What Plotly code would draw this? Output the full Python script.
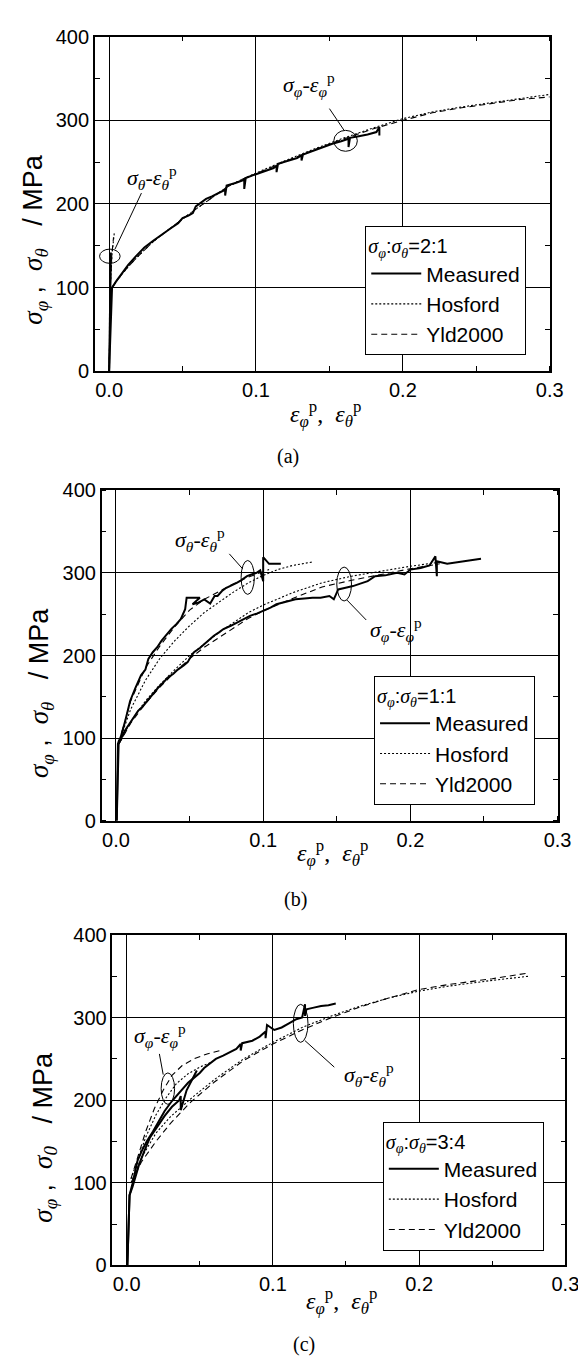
import plotly.graph_objects as go

# ---------------- data ----------------
# Panel (a)  sigma_phi : sigma_theta = 2:1
a_meas_phi_x = [0.000, 0.0005, 0.001, 0.0015, 0.002, 0.005, 0.009, 0.013, 0.018, 0.024, 0.030, 0.036, 0.042,
                0.047, 0.050, 0.054, 0.057, 0.059, 0.062, 0.066, 0.070, 0.074, 0.079, 0.079, 0.080, 0.086,
                0.092, 0.092, 0.093, 0.099, 0.106, 0.112, 0.114, 0.114, 0.115, 0.121, 0.128, 0.131, 0.131,
                0.132, 0.138, 0.145, 0.152, 0.158, 0.163, 0.163, 0.164, 0.170, 0.176, 0.182, 0.184, 0.184]
a_meas_phi_y = [0, 30, 60, 85, 100, 108, 118, 127, 137, 148, 156, 163, 171,
                177, 183, 186, 189, 197, 201, 206, 209, 213, 217, 210, 222, 225,
                229, 218, 231, 235, 239, 243, 246, 238, 248, 251, 255, 258, 252,
                259, 263, 268, 272, 275, 278, 268, 279, 281, 283, 286, 292, 282]
a_meas_th_x = [0.0, 0.0003, 0.0006, 0.0008, 0.001, 0.0012]
a_meas_th_y = [0, 40, 80, 100, 120, 142]
a_pred_phi_x = [0.002, 0.006, 0.012, 0.02, 0.03, 0.04, 0.05, 0.06, 0.07, 0.08, 0.09, 0.1, 0.12, 0.14,
                0.16, 0.18, 0.2, 0.22, 0.24, 0.26, 0.28, 0.3]
a_hos_phi_y = [100, 110, 123, 138, 155, 169, 182, 195, 208, 220, 229, 237, 252, 266, 279, 291, 302, 310, 316,
               321, 326, 331]
a_yld_phi_y = [100, 110, 123, 138, 155, 169, 182, 195, 208, 220, 229, 236, 251, 265, 278, 290, 300, 309, 315,
               320, 325, 328]
a_hos_th_x = [0.0, 0.0008, 0.002, 0.0035]
a_hos_th_y = [0, 100, 140, 165]
a_yld_th_x = [0.0, 0.0008, 0.0018, 0.003]
a_yld_th_y = [0, 100, 138, 160]

# Panel (b)  1:1
b_meas_th_x = [0.0005, 0.001, 0.0013, 0.002, 0.003, 0.0063, 0.0096, 0.013, 0.017, 0.020, 0.022, 0.025, 0.028,
               0.031, 0.034, 0.0375, 0.041, 0.044, 0.047, 0.048, 0.057, 0.052, 0.056, 0.060, 0.064, 0.067,
               0.069, 0.072, 0.075, 0.079, 0.082, 0.085, 0.089, 0.092, 0.0955, 0.098, 0.1, 0.1, 0.104, 0.112]
b_meas_th_y = [0, 40, 93, 97, 100, 121, 145, 160, 176, 183, 196, 204, 210,
               218, 225, 232, 238, 244, 256, 270, 270, 262, 264, 268, 263, 272,
               272, 278, 282, 285, 288, 291, 296, 298, 300, 303, 290, 319, 311, 311]
b_meas_phi_x = [0.0005, 0.001, 0.0018, 0.006, 0.0107, 0.015, 0.018, 0.022, 0.026, 0.0286, 0.032, 0.035, 0.039,
                0.042, 0.046, 0.0487, 0.051, 0.053, 0.057, 0.06, 0.063, 0.0665, 0.07, 0.073, 0.078, 0.082,
                0.086, 0.091, 0.096, 0.1, 0.105, 0.109, 0.115, 0.122, 0.128, 0.1335, 0.139, 0.145, 0.148,
                0.151, 0.156, 0.161, 0.166, 0.171, 0.176, 0.183, 0.191, 0.196, 0.2, 0.207, 0.213, 0.217,
                0.218, 0.218, 0.225, 0.236, 0.248]
b_meas_phi_y = [0, 40, 93, 109, 121, 133, 138, 147, 155, 161, 167, 173, 178,
                183, 188, 192, 199, 204, 209, 214, 219, 224, 228, 232, 236, 240,
                244, 248, 251, 254, 258, 262, 265, 268, 269, 270, 270, 272, 268,
                280, 282, 284, 287, 290, 296, 297, 300, 298, 304, 306, 309, 320,
                296, 314, 311, 314, 317]
b_hos_th_x = [0.002, 0.01, 0.02, 0.03, 0.04, 0.05, 0.06, 0.07, 0.08, 0.09, 0.1, 0.11, 0.12, 0.133]
b_hos_th_y = [95, 135, 170, 197, 218, 236, 252, 265, 277, 288, 297, 304, 309, 313]
b_yld_th_x = [0.002, 0.01, 0.02, 0.03, 0.04, 0.05, 0.06, 0.07, 0.08, 0.09, 0.1, 0.104]
b_yld_th_y = [95, 145, 185, 212, 235, 255, 268, 278, 287, 295, 302, 304]
b_pred_phi_x = [0.002, 0.01, 0.02, 0.03, 0.04, 0.05, 0.06, 0.07, 0.08, 0.09, 0.1, 0.12, 0.14, 0.16, 0.18,
                0.2, 0.22]
b_hos_phi_y = [93, 120, 145, 165, 183, 200, 214, 228, 240, 252, 261, 276, 288, 296, 302, 308, 313]
b_yld_phi_y = [93, 118, 142, 162, 180, 196, 210, 222, 234, 245, 254, 269, 283, 291, 298, 305, 311]

# Panel (c)  3:4
c_meas_th_x = [0.0005, 0.001, 0.002, 0.004, 0.0075, 0.011, 0.014, 0.018, 0.021, 0.026, 0.031, 0.035, 0.0386,
               0.042, 0.046, 0.05, 0.053, 0.057, 0.061, 0.066, 0.071, 0.075, 0.078, 0.078, 0.079, 0.083,
               0.086, 0.091, 0.095, 0.095, 0.096, 0.101, 0.106, 0.111, 0.116, 0.12, 0.122, 0.122, 0.123,
               0.128, 0.133, 0.138, 0.143]
c_meas_th_y = [0, 40, 85, 99, 127, 141, 151, 162, 171, 187, 199, 207, 215,
               221, 227, 233, 239, 245, 250, 254, 258, 262, 268, 260, 269, 271,
               272, 277, 283, 275, 291, 285, 288, 293, 298, 300, 316, 302, 310,
               312, 314, 315, 317]
c_meas_phi_x = [0.0005, 0.001, 0.002, 0.004, 0.0087, 0.012, 0.016, 0.021, 0.026, 0.031, 0.036, 0.037, 0.037,
                0.041, 0.046, 0.048]
c_meas_phi_y = [0, 40, 85, 95, 123, 138, 155, 168, 181, 192, 200, 205, 188, 212, 228, 236]
c_pred_th_x = [0.003, 0.01, 0.02, 0.03, 0.044, 0.06, 0.08, 0.1, 0.12, 0.14, 0.16, 0.18, 0.2, 0.22, 0.25,
               0.275]
c_hos_th_y = [100, 130, 160, 180, 202, 225, 250, 270, 288, 302, 314, 324, 332, 338, 345, 350]
c_yld_th_y = [100, 125, 150, 172, 198, 222, 248, 268, 285, 300, 313, 324, 334, 340, 347, 354]
c_hos_phi_x = [0.003, 0.008, 0.013, 0.02, 0.027, 0.034, 0.042, 0.05, 0.058]
c_hos_phi_y = [105, 130, 155, 182, 203, 220, 232, 240, 246]
c_yld_phi_x = [0.003, 0.008, 0.013, 0.019, 0.025, 0.031, 0.038, 0.046, 0.055, 0.066]
c_yld_phi_y = [105, 135, 162, 190, 212, 230, 242, 250, 256, 261]

ratio_labels = ["2:1", "1:1", "3:4"]
captions = ["(a)", "(b)", "(c)"]
x_tick_vals = [0.0, 0.1, 0.2, 0.3]
x_tick_text = ["0.0", "0.1", "0.2", "0.3"]
y_tick_vals = [0, 100, 200, 300, 400]

# ---------------- styling ----------------
W, H = 586, 1358
SANS = "Liberation Sans, Arial, sans-serif"
SERIF = "Liberation Serif, Times New Roman, serif"
MEAS = dict(color="black", width=2)
HOS = dict(color="black", width=1.1, dash="2px,2px")
YLD = dict(color="black", width=1.1, dash="6px,4px")

# pixel boxes of the three plot areas (left, right, top, bottom)
boxes = [(89, 555, 18, 358), (96, 563, 479, 815), (107, 571, 931, 1267)]

def gs(t):
    return '<span style="font-family:Liberation Serif"><i>' + t + '</i></span>'

fig = go.Figure()

def add(x, y, k, name, line, show):
    fig.add_trace(go.Scatter(
        x=x, y=y, mode="lines", line=line, name=name,
        xaxis="x" if k == 0 else "x%d" % (k + 1),
        yaxis="y" if k == 0 else "y%d" % (k + 1),
        legend="legend" if k == 0 else "legend%d" % (k + 1),
        legendgroup="%s%d" % (name, k), showlegend=show, hoverinfo="skip"))

panels = [
    dict(meas=[(a_meas_phi_x, a_meas_phi_y), (a_meas_th_x, a_meas_th_y)],
         hos=[(a_pred_phi_x, a_hos_phi_y), (a_hos_th_x, a_hos_th_y)],
         yld=[(a_pred_phi_x, a_yld_phi_y), (a_yld_th_x, a_yld_th_y)]),
    dict(meas=[(b_meas_th_x, b_meas_th_y), (b_meas_phi_x, b_meas_phi_y)],
         hos=[(b_hos_th_x, b_hos_th_y), (b_pred_phi_x, b_hos_phi_y)],
         yld=[(b_yld_th_x, b_yld_th_y), (b_pred_phi_x, b_yld_phi_y)]),
    dict(meas=[(c_meas_th_x, c_meas_th_y), (c_meas_phi_x, c_meas_phi_y)],
         hos=[(c_pred_th_x, c_hos_th_y), (c_hos_phi_x, c_hos_phi_y)],
         yld=[(c_pred_th_x, c_yld_th_y), (c_yld_phi_x, c_yld_phi_y)]),
]

for k, p in enumerate(panels):
    for i, (x, y) in enumerate(p["meas"]):
        add(x, y, k, "Measured", MEAS, i == 0)
    for i, (x, y) in enumerate(p["hos"]):
        add(x, y, k, "Hosford", HOS, i == 0)
    for i, (x, y) in enumerate(p["yld"]):
        add(x, y, k, "Yld2000", YLD, i == 0)

layout = dict(width=W, height=H, autosize=False, margin=dict(l=0, r=0, t=0, b=0),
              paper_bgcolor="white", plot_bgcolor="white", showlegend=True)

for k, (l, r, t, b) in enumerate(boxes):
    xs = "xaxis" if k == 0 else "xaxis%d" % (k + 1)
    ys = "yaxis" if k == 0 else "yaxis%d" % (k + 1)
    xa = "x" if k == 0 else "x%d" % (k + 1)
    ya = "y" if k == 0 else "y%d" % (k + 1)
    layout[xs] = dict(domain=[l / W, r / W], anchor=ya, range=[-0.0097, 0.3],
                      tickvals=x_tick_vals, ticktext=x_tick_text, ticks="",
                      showgrid=True, gridcolor="black", gridwidth=1,
                      zeroline=True, zerolinecolor="black", zerolinewidth=1,
                      showline=True, linecolor="black", linewidth=1.5, mirror="ticks",
                      minor=dict(dtick=0.05, tick0=0, ticks="inside", ticklen=5, tickcolor="black",
                                 showgrid=False),
                      tickfont=dict(family=SANS, size=20, color="black"), fixedrange=True)
    layout[ys] = dict(domain=[1 - b / H, 1 - t / H], anchor=xa, range=[0, 400],
                      tickvals=y_tick_vals, ticks="",
                      showgrid=True, gridcolor="black", gridwidth=1, zeroline=False,
                      showline=True, linecolor="black", linewidth=1.5, mirror="ticks",
                      minor=dict(dtick=50, tick0=0, ticks="inside", ticklen=5, tickcolor="black",
                                 showgrid=False),
                      tickfont=dict(family=SANS, size=20, color="black"), fixedrange=True)

# legends (left edge, bottom edge in pixels)
leg_pos = [(366, 342), (375, 799), (384, 1252)]
for k, (lx, ly) in enumerate(leg_pos):
    key = "legend" if k == 0 else "legend%d" % (k + 1)
    title = (gs("σ") + "<sub>" + gs("φ") + "</sub>:" + gs("σ") + "<sub>" + gs("θ") + "</sub>=" +
             ratio_labels[k])
    layout[key] = dict(x=lx / W, y=1 - ly / H, xanchor="left", yanchor="bottom",
                       bgcolor="white", bordercolor="black", borderwidth=1,
                       font=dict(family=SANS, size=21, color="black"),
                       title=dict(text=title, font=dict(family=SANS, size=20, color="black")),
                       tracegroupgap=0, itemwidth=50, traceorder="normal")

fig.update_layout(**layout)

ann = []
shapes = []
axis_title_y = "%s<sub>%s</sub>\u00a0,\u00a0\u00a0%s<sub>%s</sub>\u00a0\u00a0\u00a0/ MPa"
ytitles = [axis_title_y % (gs("σ"), gs("φ"), gs("σ"), gs("θ")),
           axis_title_y % (gs("σ"), gs("φ"), gs("σ"), gs("θ")),
           axis_title_y % (gs("σ"), gs("φ"), gs("σ"), gs("0"))]
xtitle = "<i>ε</i><sub><i>φ</i></sub><sup>p</sup>,  <i>ε</i><sub><i>θ</i></sub><sup>p</sup>"
ytitle_pos = [(28, 224), (34, 685), (37, 1137)]
xtitle_pos = [(325, 402), (332, 848), (342, 1303)]
cap_pos = [(287, 445), (295, 895), (303, 1347)]
for k in range(3):
    ann.append(dict(xref="paper", yref="paper", x=ytitle_pos[k][0] / W, y=1 - ytitle_pos[k][1] / H,
                    xanchor="center", yanchor="middle",
                    text=ytitles[k], textangle=-90, showarrow=False,
                    font=dict(family=SANS, size=27, color="black")))
    ann.append(dict(xref="paper", yref="paper", x=xtitle_pos[k][0] / W, y=1 - xtitle_pos[k][1] / H,
                    xanchor="center", yanchor="middle",
                    text=xtitle, showarrow=False, font=dict(family=SERIF, size=24, color="black")))
    ann.append(dict(xref="paper", yref="paper", x=cap_pos[k][0] / W, y=1 - cap_pos[k][1] / H,
                    xanchor="center", yanchor="middle",
                    text=captions[k], showarrow=False, font=dict(family=SERIF, size=20, color="black")))

lab_th = "<i>σ</i><sub><i>θ</i></sub>-<i>ε</i><sub><i>θ</i></sub><sup>p</sup>"
lab_phi = "<i>σ</i><sub><i>φ</i></sub>-<i>ε</i><sub><i>φ</i></sub><sup>p</sup>"
# (panel, text, label x, label y, ellipse x0,x1,y0,y1, leader x0,y0,x1,y1)
marks = [
    (0, lab_th, 0.029, 232, -0.0065, 0.0075, 129, 146, 0.004, 146, 0.022, 213),
    (0, lab_phi, 0.136, 343, 0.153, 0.169, 263, 288, 0.160, 288, 0.150, 314),
    (1, lab_th, 0.057, 340, 0.085, 0.094, 274, 315, 0.086, 305, 0.077, 323),
    (1, lab_phi, 0.19, 232, 0.150, 0.160, 266, 307, 0.157, 267, 0.170, 243),
    (2, lab_phi, 0.023, 278, 0.0236, 0.0328, 195, 233, 0.025, 231, 0.0224, 256),
    (2, lab_th, 0.166, 231, 0.114, 0.124, 270, 316, 0.122, 272, 0.142, 240),
]
for (k, txt, lx, ly, ex0, ex1, ey0, ey1, l0x, l0y, l1x, l1y) in marks:
    xr = "x" if k == 0 else "x%d" % (k + 1)
    yr = "y" if k == 0 else "y%d" % (k + 1)
    ann.append(dict(xref=xr, yref=yr, x=lx, y=ly, text=txt, showarrow=False,
                    xanchor="center", yanchor="middle",
                    font=dict(family=SERIF, size=22, color="black"), bgcolor="rgba(0,0,0,0)"))
    shapes.append(dict(type="circle", xref=xr, yref=yr, x0=ex0, x1=ex1, y0=ey0, y1=ey1,
                       line=dict(color="black", width=1)))
    shapes.append(dict(type="line", xref=xr, yref=yr, x0=l0x, y0=l0y, x1=l1x, y1=l1y,
                       line=dict(color="black", width=1)))

fig.update_layout(annotations=ann, shapes=shapes)
fig.write_html("out.html")
